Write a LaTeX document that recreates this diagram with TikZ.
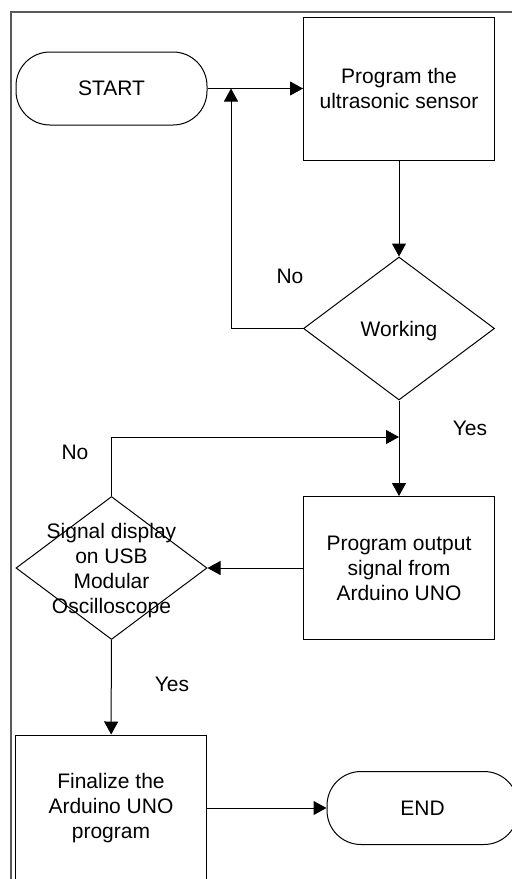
\documentclass[tikz,border=0pt]{standalone}
\usepackage{fontspec}
\setmainfont{Liberation Sans}
\usetikzlibrary{arrows.meta,shapes.geometric}

% text that may run over the border of a decision
\newcommand{\diamondtext}[1]{\makebox[0pt]{\smash{\raisebox{-4pt}{\begin{tabular}{@{}c@{}}#1\end{tabular}}}}}

\begin{document}
\begin{tikzpicture}[x=0.5pt,y=-0.5pt,
		font=\fontsize{10.5}{12.5}\selectfont,
		terminal/.style={rectangle, draw, rounded corners=17pt, minimum width=95.5pt, minimum height=36.5pt, line width=0.5pt},
		process/.style={rectangle, draw, align=center, minimum width=95.5pt, minimum height=71.5pt, line width=0.5pt},
		decision/.style={diamond, draw, inner sep=0pt, minimum width=95.5pt, minimum height=71.5pt, line width=0.5pt},
		flow/.style={->, >={Triangle[length=6.5pt,width=7pt]}, line width=0.5pt}]
		\useasboundingbox (0,0) rectangle (512,879);
		% page frame
		\draw[black!65, line width=0.9pt] (11,882) -- (11,12) -- (514,12);

		% flowchart
		\node[terminal] (start) at (111.5,88.5) {START};
		\node[process] (sensor) at (399,88.5) {Program the\\ultrasonic sensor};
		\node[decision] (working) at (399,328.5) {\diamondtext{Working}};
		\node[process] (output) at (399,568) {Program output\\signal from\\Arduino UNO};
		\node[decision] (display) at (111.5,568) {\diamondtext{Signal display\\on USB\\Modular\\Oscilloscope}};
		\node[process, minimum height=73pt] (finalize) at (111,808) {Finalize the\\Arduino UNO\\program};
		\node[terminal] (theend) at (422.5,808) {END};

		\coordinate (j1) at (231,88.5);
		\coordinate (j2) at (399,437);

		\draw[flow] (start) -- (sensor);
		\draw[flow] (sensor) -- (working);
		\draw[flow] (working.west) -| (j1);
		\draw[flow] (working) -- (output);
		\draw[flow] (display.north) |- (j2);
		\draw[flow] (output) -- (display);
		\draw[flow] (display) -- (finalize);
		\draw[flow] (finalize) -- (theend);

		% answers
		\node (no1) at (290,276) {No};
		\node (yes1) at (470,428) {Yes};
		\node (no2) at (75,452) {No};
		\node (yes2) at (172,684) {Yes};
\end{tikzpicture}
\end{document}
